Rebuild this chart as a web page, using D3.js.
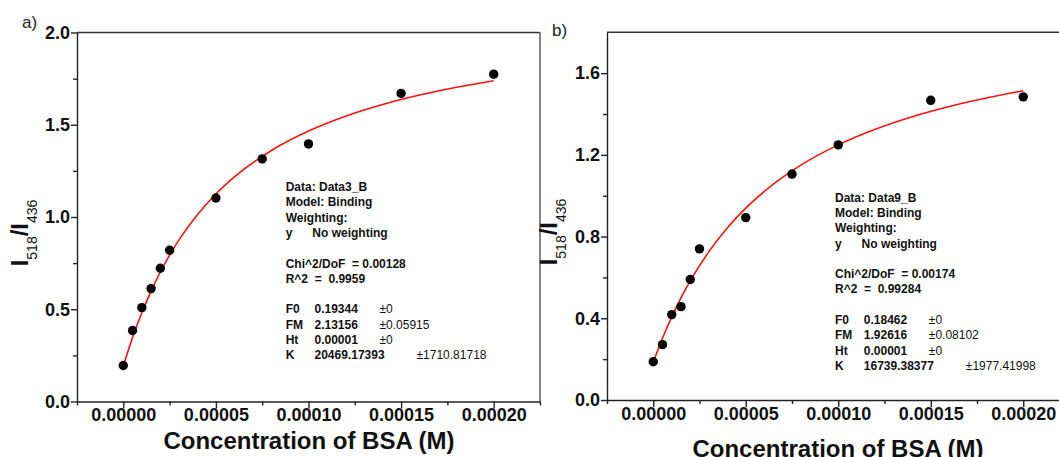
<!DOCTYPE html>
<html>
<head>
<meta charset="utf-8">
<script src="https://cdn.jsdelivr.net/npm/d3@7"></script>
<style>
  body { margin: 0; background: #fff; }
  svg { display: block; font-family: "Liberation Sans", Arial, sans-serif; }
</style>
</head>
<body>
<svg id="chart" width="1059" height="457"></svg>
<script>
// measured points, BSA concentration (M)
const concentrations = [0, 0.000005, 0.00001, 0.000015, 0.00002, 0.000025, 0.00005, 0.000075, 0.0001, 0.00015, 0.0002];
const ratioA = [0.195, 0.385, 0.509, 0.612, 0.722, 0.82, 1.103, 1.315, 1.396, 1.67, 1.774];
const ratioB = [0.187, 0.271, 0.418, 0.457, 0.590, 0.740, 0.893, 1.106, 1.249, 1.467, 1.484];

// fitted curve (red line)
const fitConc = [0, 0.000005, 0.00001, 0.000015, 0.00002, 0.00003, 0.00004, 0.00005, 0.00006, 0.00008, 0.0001, 0.00012, 0.00014, 0.00016, 0.00018, 0.0002];
const fitA = [0.1934, 0.3471, 0.4811, 0.5985, 0.7019, 0.8748, 1.0127, 1.1248, 1.2173, 1.3607, 1.4661, 1.5466, 1.6100, 1.6612, 1.7033, 1.7385];
const fitB = [0.1846, 0.3022, 0.4066, 0.4996, 0.5829, 0.7253, 0.8420, 0.9392, 1.0210, 1.1509, 1.2490, 1.3254, 1.3867, 1.4367, 1.4783, 1.5135];

const xTicks = [0, 0.00005, 0.0001, 0.00015, 0.0002];
const yTicksA = [0, 0.5, 1.0, 1.5, 2.0];
const yTicksB = [0, 0.4, 0.8, 1.2, 1.6];

const infoA = ["Data: Data3_B", "Model: Binding", "Weighting:"];
const infoB = ["Data: Data9_B", "Model: Binding", "Weighting:"];
const fitStatsA = ["Chi^2/DoF  = 0.00128", "R^2  =  0.9959"];
const fitStatsB = ["Chi^2/DoF  = 0.00174", "R^2  =  0.99284"];
const paramsA = [["F0", "0.19344", "±0"], ["FM", "2.13156", "±0.05915"], ["Ht", "0.00001", "±0"], ["K", "20469.17393", "±1710.81718"]];
const paramsB = [["F0", "0.18462", "±0"], ["FM", "1.92616", "±0.08102"], ["Ht", "0.00001", "±0"], ["K", "16739.38377", "±1977.41998"]];

const svg = d3.select("#chart");

function drawPanel(p) {
  const g = svg.append("g");

  const x = d3.scaleLinear().domain([-0.000025, 0.000225]).range([p.left, p.right]);
  const y = d3.scaleLinear().domain(p.yDomain).range([p.bottom, p.top]);

  // minor ticks first
  const xMinor = d3.range(-0.000025, 0.00023, 0.00005);
  const xMinorAxis = g.append("g")
    .attr("transform", `translate(0,${p.bottom})`)
    .call(d3.axisBottom(x).tickValues(xMinor).tickSize(4).tickFormat(""));
  xMinorAxis.select(".domain").remove();

  const yMinorAxis = g.append("g")
    .attr("transform", `translate(${p.left},0)`)
    .call(d3.axisLeft(y).tickValues(p.yMinor).tickSize(4).tickFormat(""));
  yMinorAxis.select(".domain").remove();

  const xAxis = g.append("g")
    .attr("transform", `translate(0,${p.bottom})`)
    .call(d3.axisBottom(x).tickValues(xTicks).tickSize(7).tickSizeOuter(0).tickPadding(0)
      .tickFormat(d => d.toFixed(5)));
  xAxis.selectAll("text")
    .attr("font-size", 18).attr("font-weight", "bold").attr("fill", "#111")
    .attr("font-family", "Liberation Sans, Arial, sans-serif");

  const yAxis = g.append("g")
    .attr("transform", `translate(${p.left},0)`)
    .call(d3.axisLeft(y).tickValues(p.yTicks).tickSize(6).tickSizeOuter(0).tickPadding(1)
      .tickFormat(d3.format(".1f")));
  yAxis.selectAll("text")
    .attr("font-size", 18).attr("font-weight", "bold").attr("fill", "#111")
    .attr("font-family", "Liberation Sans, Arial, sans-serif");

  g.selectAll(".domain, .tick line").attr("stroke", "#222").attr("stroke-width", 1.4);

  // frame: top and right
  g.append("line").attr("x1", p.left).attr("x2", p.right).attr("y1", p.top).attr("y2", p.top)
    .attr("stroke", "#333").attr("stroke-width", 1.4);
  g.append("line").attr("x1", p.right).attr("x2", p.right).attr("y1", p.top).attr("y2", p.bottom)
    .attr("stroke", "#333").attr("stroke-width", 1.2);

  // fit line
  const line = d3.line().x(d => x(d[0])).y(d => y(d[1])).curve(d3.curveMonotoneX);
  g.append("path")
    .datum(fitConc.map((c, i) => [c, p.fit[i]]))
    .attr("d", line)
    .attr("fill", "none").attr("stroke", "#ff1010").attr("stroke-width", 1.6);

  // data points
  g.selectAll("circle.pt")
    .data(concentrations.map((c, i) => [c, p.ratio[i]]))
    .join("circle")
    .attr("class", "pt")
    .attr("cx", d => x(d[0])).attr("cy", d => y(d[1]))
    .attr("r", 4.7).attr("fill", "#000");

  // fit report
  const info = g.append("g").attr("font-size", 12).attr("font-weight", "bold").attr("fill", "#111");
  const lh = 15.3;
  p.info.forEach((t, i) => {
    info.append("text").attr("x", p.textX).attr("y", p.textY + i * lh).text(t);
  });
  info.append("text").attr("x", p.textX).attr("y", p.textY + 3 * lh).text("y");
  info.append("text").attr("x", p.textX + 26.6).attr("y", p.textY + 3 * lh).text("No weighting");
  p.stats.forEach((t, i) => {
    info.append("text").attr("x", p.textX).attr("y", p.textY + (5 + i) * lh)
      .style("white-space", "pre").text(t);
  });
  p.params.forEach((r, i) => {
    const yy = p.textY + (8 + i) * lh;
    const vx = p.textX + 28.8;
    info.append("text").attr("x", p.textX).attr("y", yy).text(r[0]);
    info.append("text").attr("x", vx).attr("y", yy).text(r[1]);
    info.append("text").attr("x", vx + (r[1].length > 8 ? 102 : 65)).attr("y", yy)
      .attr("font-weight", "normal").text(r[2]);
  });

  // axis titles
  g.append("text")
    .attr("x", p.xTitleX).attr("y", p.xTitleY)
    .attr("text-anchor", "middle").attr("font-size", 24).attr("font-weight", "bold").attr("fill", "#111")
    .text("Concentration of BSA (M)");

  const yt = g.append("text")
    .attr("transform", `translate(${p.yTitleX},${p.yTitleY}) rotate(-90)`)
    .attr("text-anchor", "middle").attr("font-weight", "bold").attr("fill", "#111").attr("font-size", 24);
  yt.append("tspan").text("I");
  yt.append("tspan").attr("font-size", 14).attr("font-weight", "normal").attr("dy", 9).text("518");
  yt.append("tspan").attr("dy", -9).text("/I");
  yt.append("tspan").attr("font-size", 14).attr("font-weight", "normal").attr("dy", 9).text("436");

  svg.append("text").attr("x", p.tagX).attr("y", p.tagY).attr("font-size", 17).attr("fill", "#222").text(p.tag);
}

drawPanel({
  left: 77, right: 540, top: 32.5, bottom: 401.5,
  yDomain: [0, 2], yTicks: yTicksA, yMinor: [0.25, 0.75, 1.25, 1.75],
  ratio: ratioA, fit: fitA,
  info: infoA, stats: fitStatsA, params: paramsA,
  textX: 285.7, textY: 191,
  xTitleX: 309, xTitleY: 449,
  yTitleX: 28, yTitleY: 233,
  tag: "a)", tagX: 22, tagY: 28
});

drawPanel({
  left: 607, right: 1069.5, top: 32.3, bottom: 400,
  yDomain: [0, 1.8], yTicks: yTicksB, yMinor: [0.2, 0.6, 1.0, 1.4],
  ratio: ratioB, fit: fitB,
  info: infoB, stats: fitStatsB, params: paramsB,
  textX: 835, textY: 201.6,
  xTitleX: 838, xTitleY: 456.5,
  yTitleX: 557, yTitleY: 232,
  tag: "b)", tagX: 552, tagY: 36
});
</script>
</body>
</html>
